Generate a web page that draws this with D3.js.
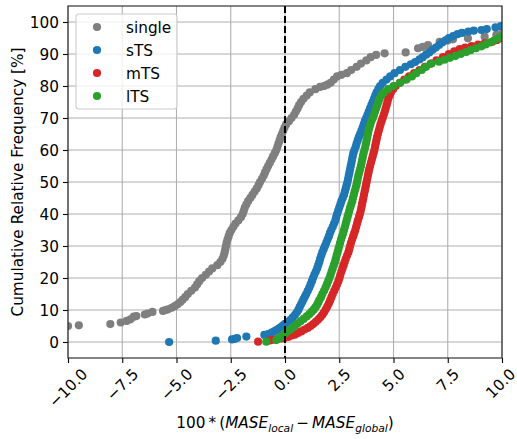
<!DOCTYPE html>
<html>
<head>
<meta charset="utf-8">
<script src="https://cdn.jsdelivr.net/npm/d3@7"></script>
<style>
  body { margin: 0; background: #fff; }
  text { font-family: "DejaVu Sans", sans-serif; fill: #000; }
</style>
</head>
<body>
<div id="chart"></div>
<script>
// cumulative relative frequency points [x, y%]
const singleData = [
  [-10.0,5.0],[-9.5,5.2],[-8.05,5.6],[-7.57,6.1],[-7.3,6.6],[-7.12,7.1],[-6.97,7.9],[-6.85,8.1],[-6.46,8.6],[-6.33,8.9],
  [-6.11,9.4],[-5.62,9.7],[-5.5,10.0],[-5.39,10.2],[-5.22,10.7],[-5.08,11.2],[-4.95,11.8],[-4.82,12.5],[-4.72,13.2],[-4.6,14.0],
  [-4.48,15],[-4.32,16],[-4.15,17],[-4.05,18],[-3.95,19],[-3.82,20],[-3.65,21],[-3.5,22],[-3.35,23],[-3.12,24],
  [-2.98,25],[-2.88,26],[-2.82,27],[-2.78,28],[-2.75,29],[-2.72,30],[-2.69,31],[-2.65,32],[-2.6,33],[-2.55,34],
  [-2.47,35],[-2.38,36],[-2.28,37],[-2.15,38],[-2.03,39],[-1.95,40],[-1.9,41],[-1.85,42],[-1.78,43],[-1.7,44],
  [-1.6,45],[-1.5,46],[-1.4,47],[-1.3,48],[-1.22,49],[-1.15,50],[-1.06,51],[-0.98,52],[-0.92,53],[-0.85,54],
  [-0.78,55],[-0.7,56],[-0.62,57],[-0.55,58],[-0.47,59],[-0.4,60],[-0.35,61],[-0.3,62],[-0.25,63],[-0.2,64],
  [-0.14,65],[-0.08,66],[-0.02,67],[0.05,68],[0.18,69],[0.3,70],[0.42,71],[0.5,72],[0.58,73],[0.65,74],
  [0.74,75],[0.85,76],[1.0,77],[1.14,78],[1.4,79],[1.62,79.7],[1.8,80],[1.95,80.4],[2.1,81],[2.25,82],
  [2.4,83],[2.6,83.5],[2.85,84],[3.05,85],[3.3,86],[3.5,87],[3.75,88],[3.95,89],[4.2,89.7],[4.59,90.2],
  [5.56,90.5],[6.13,91.8],[6.35,92.2],[6.59,92.8],[7.13,93.8],[7.5,94.2],[7.74,94.6],[8.43,94.9],[9.2,95.4],[9.74,96.0],
  [10.0,96.4]
];

const stsData = [
  [-5.34,0.0],[-3.19,0.4],[-2.44,0.8],[-2.3,1.0],[-2.21,1.25],[-1.78,1.7],[-0.95,2.2],[-0.78,2.5],[-0.62,2.9],[-0.5,3.3],
  [-0.4,3.7],[-0.3,4.1],[-0.2,4.6],[-0.1,5.1],[0.0,5.7],[0.12,6.3],[0.25,6.9],[0.36,7.7],[0.46,8.5],[0.55,9.3],
  [0.62,10.1],[0.68,11.0],[0.74,11.8],[0.8,12.6],[0.86,13.4],[0.92,14.2],[0.98,15],[1.05,16],[1.12,17],[1.18,18],
  [1.24,19],[1.29,20],[1.35,21],[1.42,22],[1.48,23],[1.53,24],[1.58,25],[1.62,26],[1.67,27],[1.72,28],
  [1.78,29],[1.84,30],[1.9,31],[1.96,32],[2.02,33],[2.07,34],[2.13,35],[2.2,36],[2.26,37],[2.32,38],
  [2.36,39],[2.4,40],[2.45,41],[2.5,42],[2.55,43],[2.6,44],[2.66,45],[2.72,46],[2.76,47],[2.8,48],
  [2.84,49],[2.88,50],[2.91,51],[2.94,52],[2.97,53],[3.0,54],[3.03,55],[3.06,56],[3.09,57],[3.12,58],
  [3.15,59],[3.2,60],[3.26,61],[3.3,62],[3.35,63],[3.4,64],[3.46,65],[3.52,66],[3.58,67],[3.63,68],
  [3.68,69],[3.74,70],[3.8,71],[3.86,72],[3.92,73],[3.98,74],[4.04,75],[4.1,76],[4.16,77],[4.22,78],
  [4.3,79],[4.38,80],[4.5,81],[4.68,82],[4.85,83],[5.05,84],[5.3,85],[5.55,86],[5.8,86.8],[6.0,87.5],
  [6.2,88.3],[6.35,89],[6.5,89.8],[6.65,90.5],[6.8,91.3],[6.95,92],[7.1,92.8],[7.25,93.6],[7.4,94.3],[7.55,95],
  [7.75,95.6],[7.95,96.2],[8.15,96.6],[8.45,97],[8.7,97.3],[9.05,97.5],[9.3,97.8],[9.7,98.3],[9.95,98.7]
];

const mtsData = [
  [-1.24,0.1],[-0.7,0.5],[-0.55,0.7],[-0.35,0.9],[-0.15,1.1],[0.0,1.3],[0.15,1.6],[0.3,2.0],[0.45,2.3],[0.6,2.8],
  [0.75,3.3],[0.9,3.9],[1.05,4.4],[1.18,5.0],[1.3,5.6],[1.42,6.3],[1.53,7.0],[1.63,7.7],[1.72,8.5],[1.8,9.3],
  [1.88,10.2],[1.95,11.1],[2.02,12],[2.08,13],[2.14,14],[2.2,15],[2.27,16],[2.34,17],[2.4,18],[2.46,19],
  [2.51,20],[2.55,21],[2.6,22],[2.65,23],[2.7,24],[2.75,25],[2.8,26],[2.86,27],[2.92,28],[2.96,29],
  [3.0,30],[3.04,31],[3.09,32],[3.14,33],[3.19,34],[3.24,35],[3.28,36],[3.32,37],[3.36,38],[3.41,39],
  [3.45,40],[3.49,41],[3.52,42],[3.55,43],[3.58,44],[3.61,45],[3.64,46],[3.67,47],[3.7,48],[3.73,49],
  [3.76,50],[3.79,51],[3.82,52],[3.85,53],[3.88,54],[3.92,55],[3.96,56],[4.0,57],[4.04,58],[4.08,59],
  [4.12,60],[4.15,61],[4.18,62],[4.21,63],[4.24,64],[4.28,65],[4.32,66],[4.36,67],[4.4,68],[4.45,69],
  [4.5,70],[4.55,71],[4.6,72],[4.64,73],[4.68,74],[4.72,75],[4.76,76],[4.82,77],[4.88,78],[4.98,79],
  [5.1,80],[5.3,81],[5.5,82],[5.72,83],[5.95,84],[6.2,85],[6.45,86],[6.72,87],[6.98,88],[7.28,89],
  [7.55,90],[7.8,90.8],[8.05,91.5],[8.3,92],[8.6,92.5],[8.9,92.9],[9.2,93.3],[9.55,93.8],[9.75,94.3],[9.95,94.9]
];

const ltsData = [
  [-0.86,0.1],[-0.4,0.6],[-0.3,1.0],[-0.2,1.5],[-0.1,2.1],[0.0,2.7],[0.08,3.2],[0.2,3.7],[0.32,4.3],[0.45,5.0],
  [0.58,5.8],[0.72,6.5],[0.86,7.2],[1.0,8.0],[1.12,8.7],[1.22,9.4],[1.32,10.1],[1.4,10.8],[1.47,11.5],[1.53,12.3],
  [1.58,13.1],[1.66,14],[1.72,15],[1.8,16],[1.87,17],[1.93,18],[1.99,19],[2.05,20],[2.1,21],[2.15,22],
  [2.2,23],[2.25,24],[2.3,25],[2.34,26],[2.38,27],[2.42,28],[2.46,29],[2.5,30],[2.54,31],[2.58,32],
  [2.63,33],[2.68,34],[2.72,35],[2.76,36],[2.8,37],[2.84,38],[2.88,39],[2.92,40],[2.96,41],[3.0,42],
  [3.05,43],[3.1,44],[3.13,45],[3.17,46],[3.21,47],[3.25,48],[3.29,49],[3.32,50],[3.35,51],[3.38,52],
  [3.42,53],[3.46,54],[3.5,55],[3.53,56],[3.56,57],[3.59,58],[3.62,59],[3.66,60],[3.7,61],[3.73,62],
  [3.76,63],[3.79,64],[3.82,65],[3.85,66],[3.89,67],[3.93,68],[3.98,69],[4.05,70],[4.1,71],[4.15,72],
  [4.2,73],[4.25,74],[4.3,75],[4.36,76],[4.44,77],[4.55,78],[4.75,79],[5.0,80],[5.3,81],[5.6,82],
  [5.85,83],[6.05,84],[6.3,85],[6.5,86],[6.75,87],[7.1,87.6],[7.35,88.2],[7.6,88.8],[7.85,89.4],[8.1,90],
  [8.35,90.6],[8.55,91.2],[8.8,91.8],[9.05,92.4],[9.25,93],[9.45,93.6],[9.65,94.3],[9.85,95],[10.0,95.6]
];

const seriesNames = ["single", "sTS", "mTS", "lTS"];
const seriesColors = ["#7f7f7f", "#1f77b4", "#d62728", "#2ca02c"];
const seriesData = [singleData, stsData, mtsData, ltsData];

const xTicks = [-10, -7.5, -5, -2.5, 0, 2.5, 5, 7.5, 10];
const yTicks = [0, 10, 20, 30, 40, 50, 60, 70, 80, 90, 100];

const W = 517, H = 439;
const margin = { top: 6, right: 15, bottom: 81, left: 68 },
    width = W - margin.left - margin.right,
    height = H - margin.top - margin.bottom;
const fs = 15.3;

const svg = d3.select("#chart").append("svg")
    .attr("width", W)
    .attr("height", H);

const g = svg.append("g")
    .attr("transform", `translate(${margin.left},${margin.top})`);

const x = d3.scaleLinear().domain([-10, 10]).range([0, width]);
const y = d3.scaleLinear().domain([-5, 105]).range([height, 0]);

// grid
g.append("g").selectAll("line")
    .data(xTicks).enter().append("line")
    .attr("x1", d => x(d)).attr("x2", d => x(d))
    .attr("y1", 0).attr("y2", height)
    .attr("stroke", "#b0b0b0").attr("stroke-width", 1.1);

g.append("g").selectAll("line")
    .data(yTicks).enter().append("line")
    .attr("x1", 0).attr("x2", width)
    .attr("y1", d => y(d)).attr("y2", d => y(d))
    .attr("stroke", "#b0b0b0").attr("stroke-width", 1.1);

// clip for markers
svg.append("defs").append("clipPath").attr("id", "plotclip")
    .append("rect").attr("width", width).attr("height", height);

const plot = g.append("g").attr("clip-path", "url(#plotclip)");

seriesData.forEach((data, i) => {
    plot.append("g").selectAll("circle")
        .data(data).enter().append("circle")
        .attr("cx", d => x(d[0]))
        .attr("cy", d => y(d[1]))
        .attr("r", 4.1)
        .attr("fill", seriesColors[i]);
});

// zero line
g.append("line")
    .attr("x1", x(0)).attr("x2", x(0))
    .attr("y1", 0).attr("y2", height)
    .attr("stroke", "#000")
    .attr("stroke-width", 2)
    .attr("stroke-dasharray", "7,3");

// axes
const xAxis = g.append("g")
    .attr("transform", `translate(0,${height})`)
    .call(d3.axisBottom(x).tickValues(xTicks).tickSize(5).tickFormat(d => ""));
const yAxis = g.append("g")
    .call(d3.axisLeft(y).tickValues(yTicks).tickSize(5).tickFormat(d => ""));
[xAxis, yAxis].forEach(a => {
    a.select(".domain").remove();
    a.selectAll(".tick line").attr("stroke", "#000").attr("stroke-width", 1.1);
});

// frame
g.append("rect")
    .attr("width", width).attr("height", height)
    .attr("fill", "none").attr("stroke", "#222").attr("stroke-width", 1.1);

// y tick labels
g.append("g").selectAll("text")
    .data(yTicks).enter().append("text")
    .attr("x", -9)
    .attr("y", d => y(d))
    .attr("dy", "0.36em")
    .attr("text-anchor", "end")
    .style("font-size", fs + "px")
    .text(d => d);

// x tick labels, rotated 45 degrees
const fmt = d => d3.format(".1f")(d).replace("-", "\u2212");
g.append("g").selectAll("text")
    .data(xTicks).enter().append("text")
    .attr("text-anchor", "middle")
    .attr("dy", "0.36em")
    .style("font-size", fs + "px")
    .text(d => fmt(d))
    .each(function(d) {
        const w = this.getComputedTextLength() - 2;
        const off = (w + 0.73 * fs) / (2 * Math.SQRT2);
        // keep the last label inside the window
        const dx = d === 10 ? -1.5 : 0;
        d3.select(this).attr("transform", `translate(${x(d) + dx},${height + 10 + off}) rotate(-45)`);
    });

// axis labels
svg.append("text")
    .attr("transform", `translate(23,${margin.top + height / 2}) rotate(-90)`)
    .attr("text-anchor", "middle")
    .style("font-size", fs + "px")
    .text("Cumulative Relative Frequency [%]");

const xl = svg.append("text")
    .attr("x", margin.left + width / 2)
    .attr("y", 428)
    .attr("text-anchor", "middle")
    .style("font-size", fs + "px");
xl.append("tspan").text("100\u2009*\u2009(");
xl.append("tspan").style("font-style", "italic").text("MASE");
xl.append("tspan").style("font-style", "italic").style("font-size", (fs * 0.7) + "px").attr("dy", 3.5).text("local");
xl.append("tspan").attr("dy", -3.5).text("\u2009\u2212\u2009");
xl.append("tspan").style("font-style", "italic").text("MASE");
xl.append("tspan").style("font-style", "italic").style("font-size", (fs * 0.7) + "px").attr("dy", 3.5).text("global");
xl.append("tspan").attr("dy", -3.5).text(")");

// legend
const legend = svg.append("g").attr("transform", "translate(76,14)");
legend.append("rect")
    .attr("width", 101).attr("height", 95)
    .attr("rx", 3)
    .attr("fill", "#fff").attr("fill-opacity", 0.8)
    .attr("stroke", "#cccccc").attr("stroke-width", 1.1);

legend.selectAll("circle")
    .data(seriesNames).enter().append("circle")
    .attr("cx", 21)
    .attr("cy", (d, i) => 13 + i * 23)
    .attr("r", 4.1)
    .attr("fill", (d, i) => seriesColors[i]);

legend.selectAll("text")
    .data(seriesNames).enter().append("text")
    .attr("x", 50)
    .attr("y", (d, i) => 13 + i * 23)
    .attr("dy", "0.36em")
    .style("font-size", fs + "px")
    .text(d => d);
</script>
</body>
</html>
